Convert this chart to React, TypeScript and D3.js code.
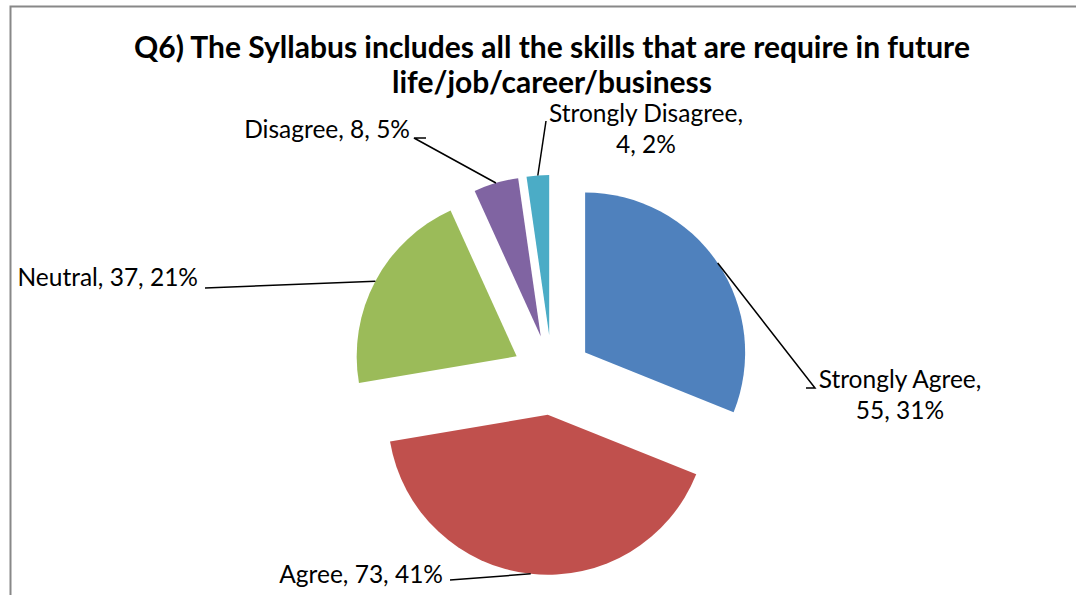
import React from "react";
import * as d3 from "d3";

const categories = ["Strongly Agree", "Agree", "Neutral", "Disagree", "Strongly Disagree"];
const counts = [55, 73, 37, 8, 4];
const percents = ["31%", "41%", "21%", "5%", "2%"];
const colors = ["#4F81BD", "#C0504D", "#9BBB59", "#8064A2", "#4BACC6"];
const titleLines = [
  "Q6) The Syllabus includes all the skills that are require in future",
  "life/job/career/business",
];

const W = 1076;
const H = 595;
const CX = 552;
const CY = 375;
const R = 160;
const EXPLODE = 40;

// label layout: text position, anchor, number of lines, leader points (label side)
const labelLayout = [
  { x: 900, y: 388, anchor: "middle", lines: 2, via: [[806, 388], [815, 388]] },
  { x: 443, y: 583, anchor: "end", lines: 1, via: [[450, 580]] },
  { x: 198, y: 286, anchor: "end", lines: 1, via: [[205, 288]] },
  { x: 410, y: 138, anchor: "end", lines: 1, via: [[426, 138], [414, 138]] },
  { x: 646, y: 122, anchor: "middle", lines: 2, via: [[546, 121]] },
];

export default function App() {
  const pie = d3.pie<number>().sort(null).startAngle(0).endAngle(2 * Math.PI).value((d) => d);
  const arcs = pie(counts);
  const arc = d3.arc<d3.PieArcDatum<number>>().innerRadius(0).outerRadius(R);

  return (
    <svg width={W} height={H} style={{ display: "block", position: "absolute", left: 0, top: 0 }}>
      <rect x={0} y={0} width={W} height={H} fill="#fff" />
      <path d={`M10.5,${H} L10.5,6.5 L${W},6.5`} fill="none" stroke="#888" strokeWidth={2} />
      <g fontFamily="Lato, 'Open Sans', sans-serif" fontWeight={700} fontSize={30} textAnchor="middle" fill="#000">
        {titleLines.map((t, i) => (
          <text key={i} x={CX} y={58 + i * 35}>{t}</text>
        ))}
      </g>
      {arcs.map((a, i) => {
        const mid = (a.startAngle + a.endAngle) / 2;
        const dx = Math.sin(mid) * EXPLODE;
        const dy = -Math.cos(mid) * EXPLODE;
        const ax = CX + dx + Math.sin(mid) * R;
        const ay = CY + dy - Math.cos(mid) * R;
        const L = labelLayout[i];
        const pts = [[ax, ay], ...L.via.slice().reverse()];
        const line = d3.line()(pts as [number, number][]);
        return (
          <g key={categories[i]}>
            <path d={arc(a) || ""} fill={colors[i]} transform={`translate(${CX + dx},${CY + dy})`} />
            <path d={line || ""} fill="none" stroke="#000" strokeWidth={1.5} />
          </g>
        );
      })}
      <g fontFamily="Lato, 'Open Sans', sans-serif" fontSize={24.5} fill="#000">
        {labelLayout.map((L, i) =>
          L.lines === 2 ? (
            <text key={i} x={L.x} y={L.y} textAnchor={L.anchor as any}>
              <tspan x={L.x} y={L.y}>{`${categories[i]},`}</tspan>
              <tspan x={L.x} y={L.y + 31}>{`${counts[i]}, ${percents[i]}`}</tspan>
            </text>
          ) : (
            <text key={i} x={L.x} y={L.y} textAnchor={L.anchor as any}>
              {`${categories[i]}, ${counts[i]}, ${percents[i]}`}
            </text>
          )
        )}
      </g>
    </svg>
  );
}
